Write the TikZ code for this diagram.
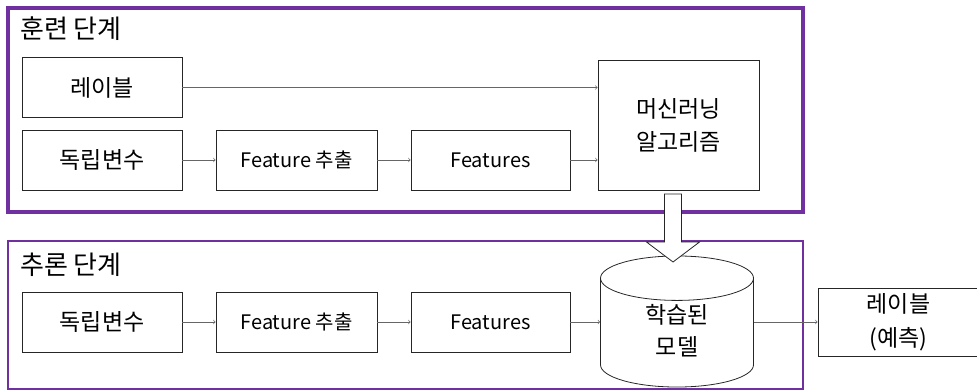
\documentclass[tikz,border=0pt]{standalone}
\usepackage{fontspec}
\setmainfont{Noto Sans CJK KR}
\usetikzlibrary{shapes.geometric}

\definecolor{stagepurple}{HTML}{7030A0}

\tikzset{
  stagebox/.style={draw=stagepurple},
  stagetitle/.style={anchor=west, font=\fontsize{26}{30}\selectfont, inner sep=0pt},
  procbox/.style={draw=black!85, line width=0.8pt, minimum width=160pt, minimum height=60pt,
    inner sep=0pt, font=\fontsize{23}{34}\selectfont, align=center},
  smallbox/.style={procbox, font=\fontsize{20}{24}\selectfont},
  flow/.style={->, draw=black!60, line width=0.7pt},
}

\begin{document}
\begin{tikzpicture}[x=1pt, y=-1pt]
\useasboundingbox (0,0) rectangle (977,390);

% stage frames
\draw[stagebox, line width=3.4pt] (8,8) rectangle (803,212);
\draw[stagebox, line width=2.4pt] (8,241) rectangle (803,389);
\node[stagetitle] (traintitle) at (20,29) {훈련 단계};
\node[stagetitle] (infertitle) at (20,265) {추론 단계};

% training
\node[procbox] (label) at (102,87.5) {레이블};
\node[procbox] (indep) at (102,160) {독립변수};
\node[smallbox, minimum width=161pt] (extract) at (296.5,160) {Feature 추출};
\node[smallbox, minimum width=159pt] (feat) at (490.5,160) {Features};
\node[procbox, minimum width=161pt, minimum height=130pt, font=\fontsize{23}{33}\selectfont] (algo) at (678.5,125) {머신러닝\\알고리즘};

\draw[flow] (label.east) -- (label.east -| algo.west);
\draw[flow] (indep) -- (extract);
\draw[flow] (extract) -- (feat);
\draw[flow] (feat.east) -- (feat.east -| algo.west);

% inference
\node[procbox] (indepb) at (102,322) {독립변수};
\node[smallbox, minimum width=161pt] (extractb) at (296.5,322) {Feature 추출};
\node[smallbox, minimum width=159pt] (featb) at (490.5,322) {Features};
\node[draw=black!85, line width=0.8pt, cylinder, shape border rotate=90, aspect=0.7,
  minimum width=153pt, minimum height=107pt, inner sep=0pt, anchor=shape center,
  font=\fontsize{23}{32}\selectfont] (model) at (677,321.5)
  {\raisebox{-9pt}{\begin{tabular}{@{}c@{}}학습된\\모델\end{tabular}}};
\node[procbox, minimum width=161pt, minimum height=61pt] (pred) at (898.5,322.5)
  {\raisebox{-2pt}{\begin{tabular}{@{}c@{}}레이블\\(예측)\end{tabular}}};

\draw[flow] (indepb) -- (extractb);
\draw[flow] (extractb) -- (featb);
\draw[flow] (featb) -- (featb -| model.west);
\draw[flow] (featb -| model.east) -- (featb -| pred.west);

% hand-over arrow
\coordinate (hand) at (673,194);
\draw[fill=white, draw=black!85, line width=0.8pt]
  ([xshift=-8.5pt]hand) -- ++(0,48) -- ++(-18,0) -- (673,262) -- (699.5,242)
  -- ++(-18,0) -- ([xshift=8.5pt]hand) -- cycle;
\end{tikzpicture}
\end{document}
